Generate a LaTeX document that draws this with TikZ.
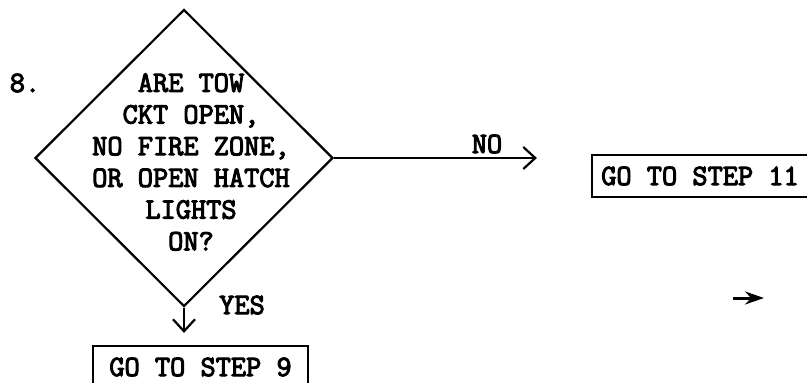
\documentclass[tikz,border=0pt]{standalone}
\usepackage{fontspec}
\newfontfamily\typer{Latin Modern Mono}[FakeBold=3.5]
\usetikzlibrary{arrows.meta,positioning,shapes.geometric}

\begin{document}
\begin{tikzpicture}[
    x=1pt, y=-1pt,
    every node/.style={font=\typer\fontsize{29.5}{31.7}\selectfont},
    decision/.style={draw, diamond, line width=2.2pt, minimum width=298pt, minimum height=297pt, inner sep=0pt},
    gobox/.style={draw, line width=2.2pt, minimum height=42pt, inner sep=0pt},
    arr/.style={-{Straight Barb[length=12pt,width=22pt,line width=2.2pt]}, line width=2.2pt}
  ]
  \useasboundingbox (0,0) rectangle (807,383);

  % Decision of step 8
  \node (stepnum) at (25,83) {8.};
  \node[decision] (check) at (184,158) {};
  \node[align=center] (question) at (191,162) {ARE TOW\\ CKT OPEN,\\ NO FIRE ZONE,\\ OR OPEN HATCH\\ LIGHTS\\ ON?};

  % Outcomes
  \node[gobox, minimum width=215pt] (step9) at (200.5,367) {GO TO STEP 9};
  \node[gobox, minimum width=226pt] (step11) at (705,176) {\hspace*{-10pt}GO TO STEP 11};

  \draw[arr, shorten >=12pt] (check.south) -- (check.south |- step9.north);
  \draw[arr, shorten >=54pt] (check.east) -- (check.east -| step11.west);

  \node (yes) at (242,305) {YES};
  \node (no) at (487,144) {NO};

  % Loose arrow mark
  \coordinate (marktail) at (733,298);
  \coordinate (markhead) at (764,298);
  \draw[line width=3pt, -{Stealth[length=19pt,width=13pt]}] (marktail) -- (markhead);
\end{tikzpicture}
\end{document}
